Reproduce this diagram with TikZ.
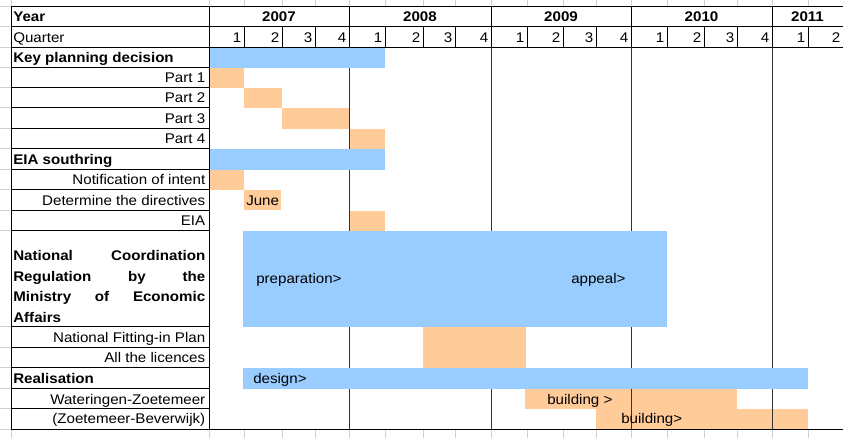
\documentclass[tikz,border=0pt]{standalone}
\usepackage{fontspec}
\setmainfont{Liberation Sans}[FakeStretch=1.08]

\definecolor{planblue}{HTML}{99CCFF}
\definecolor{taskorange}{HTML}{FFCC99}
\newcommand\sheetfont{\fontsize{10.5pt}{12.6pt}\selectfont}

\tikzset{
  cell/.style={inner sep=0pt, text height=7.5pt, text depth=0pt, font=\sheetfont},
  rowlabel/.style={cell, anchor=east},
  rowhead/.style={cell, anchor=west, font=\sheetfont\bfseries},
  barlabel/.style={cell, anchor=west},
  planbar/.style={fill=planblue},
  taskbar/.style={fill=taskorange},
  rule/.style={line width=0.75pt, black},
  yearrule/.style={line width=0.75pt, black!80},
  stub/.style={line width=0.75pt, black!18}
}

\begin{document}
\begin{tikzpicture}[x=0.75pt, y=-0.75pt, line cap=rect]
\useasboundingbox (0,0) rectangle (843,438);

% sheet grid outside the table
\foreach \x in {11,209,244,282,315,349,385,423,455,491,527,563,596,631,667,704,737,772,808}{
  \draw[stub] (\x,0) -- (\x,6);
  \draw[stub] (\x,430) -- (\x,438);
}
\foreach \y in {7,27,48,68,88,108,129,149,170,190,211,231,327,348,368,389,409,429}
  \draw[stub] (0,\y) -- (10,\y);

% task cells
\fill[taskbar] (209.5,68) rectangle (244,88);
\fill[taskbar] (244,88) rectangle (282,108);
\fill[taskbar] (282,108) rectangle (349,129);
\fill[taskbar] (349,129) rectangle (385,149);
\fill[taskbar] (209.5,170) rectangle (244,190);
\fill[taskbar] (244,190) rectangle (281,210);
\fill[taskbar] (349.5,211) rectangle (385,231);
\fill[taskbar] (525,389) rectangle (737,409);
\fill[taskbar] (596,409) rectangle (808,429);

% header and label column
\draw[rule] (11,7) -- (843,7);
\draw[rule] (11,27) -- (843,27);
\draw[rule] (11,48) -- (843,48);
\draw[rule] (11,7) -- (11,429);
\draw[rule] (209,7) -- (209,429);
\foreach \y in {68,88,108,129,149,170,190,211,231,327,348,368,389,409}
  \draw[rule] (11,\y) -- (209,\y);
\foreach \x in {244,282,315,385,423,455,527,563,596,667,704,737,808}
  \draw[rule] (\x,27) -- (\x,48);
\foreach \x in {349,491,631,772}{
  \draw[rule] (\x,7) -- (\x,48);
  \draw[yearrule] (\x,48) -- (\x,429);
}

% planning bars
\fill[planbar] (209.5,48.5) rectangle (385,68);
\fill[planbar] (209.5,149.5) rectangle (385,170);
\fill[planbar] (243,231) rectangle (667,327);
\fill[taskbar] (423,327) rectangle (526,368);
\fill[planbar] (243,368) rectangle (808,389);
\draw[rule] (11,429) -- (843,429);

% years and quarters
\node[rowhead] (year) at (13,17) {Year};
\node[cell, anchor=west] (quarter) at (13,37.5) {Quarter};
\foreach \xc/\yr in {279/2007,420/2008,561/2009,701.5/2010,807.5/2011}
  \node[cell, font=\sheetfont\bfseries] (y\yr) at (\xc,17) {\yr};
\foreach \xr/\q [count=\i] in {244/1,282/2,315/3,349/4,385/1,423/2,455/3,491/4,527/1,563/2,596/3,631/4,667/1,704/2,737/3,772/4,808/1,843/2}
  \node[cell, anchor=east] (q\i) at (\xr-2.5,37.5) {\q};

% row labels
\node[rowhead] (kpd) at (13,58) {Key planning decision};
\node[rowlabel] (part1) at (205.5,78) {Part 1};
\node[rowlabel] (part2) at (205.5,98) {Part 2};
\node[rowlabel] (part3) at (205.5,118.5) {Part 3};
\node[rowlabel] (part4) at (205.5,139) {Part 4};
\node[rowhead] (eias) at (13,159.5) {EIA southring};
\node[rowlabel] (notif) at (205.5,180) {Notification of intent};
\node[rowlabel] (direct) at (205.5,200.5) {Determine the directives};
\node[rowlabel] (eia) at (205.5,221) {EIA};
\foreach \t/\b [count=\i] in {National Coordination/261,Regulation by the/281.5,Ministry of Economic/302}
  \node[cell, anchor=base west, font=\sheetfont\bfseries] (ncr\i) at (13,\b) {\makebox[144pt][s]{\t}};
\node[cell, anchor=base west, font=\sheetfont\bfseries] (ncr4) at (13,322.5) {Affairs};
\node[rowlabel] (nfp) at (205.5,337.5) {National Fitting-in Plan};
\node[rowlabel] (lic) at (205.5,358) {All the licences};
\node[rowhead] (real) at (13,378.5) {Realisation};
\node[rowlabel] (watz) at (205.5,399) {Wateringen-Zoetemeer};
\node[rowlabel] (zoeb) at (205.5,419) {(Zoetemeer-Beverwijk)};

% bar texts
\node[barlabel] (june) at (246,200.5) {June};
\node[barlabel] (prep) at (256,279) {preparation>};
\node[barlabel] (appeal) at (571,279) {appeal>};
\node[barlabel] (design) at (253,378.5) {design>};
\node[barlabel] (build1) at (547,399) {building >};
\node[barlabel] (build2) at (621,419) {building>};

\end{tikzpicture}
\end{document}
